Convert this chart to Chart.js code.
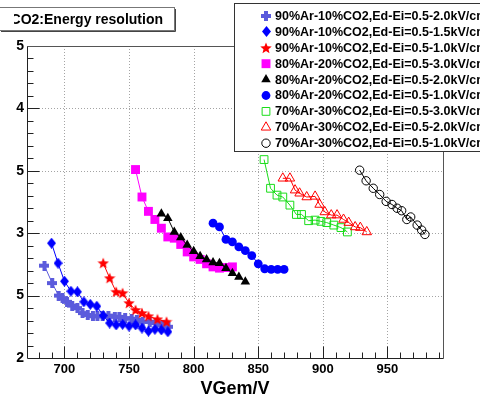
<!DOCTYPE html>
<html>
<head>
<meta charset="utf-8">
<script src="https://cdn.jsdelivr.net/npm/chart.js@4.4.1/dist/chart.umd.min.js"></script>
<style>
  html, body { margin: 0; padding: 0; background: #fff; }
  #wrap { width: 480px; height: 397px; }
</style>
</head>
<body>
<div id="wrap"><canvas id="resChart" width="480" height="397"></canvas></div>
<script>
// axis ranges and tick labels (as printed on the reference)
const xMin = 671, xMax = 993;
const yMin = 2, yMax = 4.5;
const xTickVals = [700, 750, 800, 850, 900, 950];
const yTickVals = [2, 2.5, 3, 3.5, 4, 4.5];
const yTickText = ['2', '5', '3', '5', '4', '5'];

const seriesLabels = [
    '90%Ar-10%CO2,Ed-Ei=0.5-2.0kV/cm',
    '90%Ar-10%CO2,Ed-Ei=0.5-1.5kV/cm',
    '90%Ar-10%CO2,Ed-Ei=0.5-1.0kV/cm',
    '80%Ar-20%CO2,Ed-Ei=0.5-3.0kV/cm',
    '80%Ar-20%CO2,Ed-Ei=0.5-2.0kV/cm',
    '80%Ar-20%CO2,Ed-Ei=0.5-1.0kV/cm',
    '70%Ar-30%CO2,Ed-Ei=0.5-3.0kV/cm',
    '70%Ar-30%CO2,Ed-Ei=0.5-2.0kV/cm',
    '70%Ar-30%CO2,Ed-Ei=0.5-1.0kV/cm'
];

// 90%Ar-10%CO2
const v90a = [684.5, 690.5, 695.5, 698.5, 702, 706, 710, 714, 718, 722, 725.5, 729.5, 734, 739, 742.5, 747, 752, 756, 760.5, 766, 771, 776, 780.5];
const e90a = [2.74, 2.60, 2.50, 2.48, 2.45, 2.42, 2.40, 2.36, 2.345, 2.335, 2.335, 2.335, 2.34, 2.33, 2.33, 2.32, 2.315, 2.305, 2.29, 2.29, 2.28, 2.265, 2.25];
const v90b = [690, 695, 700, 705, 710, 715, 720, 725, 730, 735, 740, 745, 750, 755, 760, 765, 770, 775, 780];
const e90b = [2.92, 2.76, 2.615, 2.535, 2.53, 2.45, 2.43, 2.415, 2.34, 2.28, 2.265, 2.27, 2.255, 2.265, 2.24, 2.215, 2.23, 2.225, 2.21];
const v90c = [730, 735, 740, 745, 750, 755, 760, 765, 772, 779];
const e90c = [2.76, 2.64, 2.53, 2.52, 2.44, 2.385, 2.36, 2.335, 2.31, 2.29];

// 80%Ar-20%CO2
const v80a = [755, 760, 765, 770, 775, 780, 785, 790, 795, 800, 805, 810, 815, 820, 825, 830];
const e80a = [3.51, 3.29, 3.175, 3.11, 3.04, 2.97, 2.96, 2.91, 2.85, 2.81, 2.79, 2.755, 2.73, 2.72, 2.725, 2.73];
const v80b = [775, 780, 785, 790, 795, 800, 805, 810, 815, 820, 825, 830, 835, 840];
const e80b = [3.155, 3.12, 3.01, 2.965, 2.905, 2.855, 2.815, 2.79, 2.765, 2.76, 2.72, 2.68, 2.65, 2.61];
const v80c = [815, 820, 825, 830, 835, 840, 845, 850, 855, 860, 865, 870];
const e80c = [3.08, 3.05, 2.95, 2.93, 2.89, 2.86, 2.82, 2.755, 2.715, 2.71, 2.71, 2.71];

// 70%Ar-30%CO2
const v70a = [854.5, 859.5, 864.5, 869, 874.5, 879.5, 883.5, 889, 894, 898.5, 903, 908.5, 914, 919];
const e70a = [3.59, 3.36, 3.305, 3.29, 3.225, 3.15, 3.15, 3.10, 3.105, 3.095, 3.085, 3.065, 3.045, 3.01];
const v70b = [869, 874.5, 878.5, 882, 887.5, 894, 897.5, 901.5, 906.5, 911, 916, 920, 925, 929, 934];
const e70b = [3.44, 3.44, 3.345, 3.32, 3.29, 3.295, 3.23, 3.17, 3.145, 3.145, 3.11, 3.085, 3.05, 3.045, 3.01];
const v70c = [928.5, 933.5, 939, 944, 949, 953.5, 957.5, 961, 965, 968, 973, 976.5, 979];
const e70c = [3.505, 3.42, 3.36, 3.31, 3.255, 3.23, 3.20, 3.18, 3.11, 3.13, 3.065, 3.025, 2.99];

const FONT = '"Liberation Sans", Arial, Helvetica, sans-serif';

// small canvases for the ROOT-like markers Chart.js doesn't have
function plusMarker(color) {
    const c = document.createElement('canvas');
    c.width = c.height = 10;
    const g = c.getContext('2d');
    g.fillStyle = color;
    g.fillRect(0, 3, 10, 4);
    g.fillRect(3, 0, 4, 10);
    return c;
}
function diamondMarker(color) {
    const c = document.createElement('canvas');
    c.width = 9; c.height = 11;
    const g = c.getContext('2d');
    g.fillStyle = color;
    g.beginPath();
    g.moveTo(4.5, 0); g.lineTo(9, 5.5); g.lineTo(4.5, 11); g.lineTo(0, 5.5);
    g.closePath();
    g.fill();
    return c;
}
function starMarker(color) {
    const c = document.createElement('canvas');
    c.width = c.height = 12;
    const g = c.getContext('2d');
    g.fillStyle = color;
    g.beginPath();
    for (let i = 0; i < 10; i++) {
        const r = i % 2 === 0 ? 6 : 2.6;
        const a = -Math.PI / 2 + i * Math.PI / 5;
        const px = 6 + r * Math.cos(a), py = 6.4 + r * Math.sin(a);
        if (i === 0) g.moveTo(px, py); else g.lineTo(px, py);
    }
    g.closePath();
    g.fill();
    return c;
}

const colors = ['#5b5bdc', '#0000ff', '#ff0000', '#ff00ff', '#000000', '#0000ff', '#19dd19', '#ff0000', '#000000'];
const markers = [
    { style: plusMarker(colors[0]), r: 5, open: false },
    { style: diamondMarker(colors[1]), r: 5, open: false },
    { style: starMarker(colors[2]), r: 6, open: false },
    { style: 'rect', r: 6.3, open: false },
    { style: 'triangle', r: 5.5, open: false },
    { style: 'circle', r: 4.4, open: false },
    { style: 'rect', r: 5.5, open: true },
    { style: 'triangle', r: 5.5, open: true },
    { style: 'circle', r: 4.2, open: true }
];
const xs = [v90a, v90b, v90c, v80a, v80b, v80c, v70a, v70b, v70c];
const ys = [e90a, e90b, e90c, e80a, e80b, e80c, e70a, e70b, e70c];

const datasets = xs.map((vx, i) => ({
    label: seriesLabels[i],
    data: vx.map((v, k) => ({ x: v, y: ys[i][k] })),
    showLine: true,
    borderColor: colors[i],
    borderWidth: 1,
    pointStyle: markers[i].style,
    pointRadius: markers[i].r,
    pointHoverRadius: markers[i].r,
    pointBackgroundColor: markers[i].open ? 'rgba(0,0,0,0)' : colors[i],
    pointBorderColor: colors[i],
    pointBorderWidth: markers[i].open ? 1 : 0,
    order: -i,
    clip: false
}));

function drawMark(ctx, i, x, y) {
    const m = markers[i];
    if (typeof m.style !== 'string') {
        ctx.drawImage(m.style, Math.round(x - m.style.width / 2), Math.round(y - m.style.height / 2));
        return;
    }
    ctx.save();
    ctx.fillStyle = m.open ? 'rgba(0,0,0,0)' : colors[i];
    ctx.strokeStyle = colors[i];
    ctx.lineWidth = 1;
    Chart.helpers.drawPoint(ctx, { pointStyle: m.style, radius: m.r, borderWidth: m.open ? 1 : 0, rotation: 0 }, x, y);
    ctx.restore();
}

const rootFrame = {
    id: 'rootFrame',
    beforeDatasetsDraw(chart) {
        const { ctx, chartArea: a } = chart;
        const sx = chart.scales.x, sy = chart.scales.y;
        ctx.save();
        ctx.strokeStyle = '#a4a4a4';
        ctx.lineWidth = 1;
        ctx.setLineDash([1, 2]);
        ctx.beginPath();
        xTickVals.forEach(v => {
            const px = Math.round(sx.getPixelForValue(v)) + 0.5;
            ctx.moveTo(px, a.top); ctx.lineTo(px, a.bottom);
        });
        yTickVals.forEach(v => {
            const py = Math.round(sy.getPixelForValue(v)) + 0.5;
            if (py > a.bottom - 2) return;
            ctx.moveTo(a.left, py); ctx.lineTo(a.right, py);
        });
        ctx.stroke();
        ctx.restore();
    },
    afterDatasetsDraw(chart) {
        const { ctx, chartArea: a } = chart;
        const sx = chart.scales.x, sy = chart.scales.y;
        const L = Math.round(a.left) + 0.5, R = Math.round(a.right) + 0.5;
        const T = Math.round(a.top) + 0.5, B = Math.round(a.bottom) + 0.5;
        ctx.save();
        ctx.lineWidth = 1;
        ctx.strokeStyle = '#555';
        ctx.beginPath();
        ctx.moveTo(L, T); ctx.lineTo(R, T); ctx.lineTo(R, B);
        ctx.stroke();
        ctx.strokeStyle = '#222';
        ctx.beginPath();
        ctx.moveTo(L, T); ctx.lineTo(L, B); ctx.lineTo(R, B);
        // x ticks, every 10 V, major every 50
        for (let v = 680; v <= 990; v += 10) {
            const px = Math.round(sx.getPixelForValue(v)) + 0.5;
            const len = v % 50 === 0 ? 12 : 6;
            ctx.moveTo(px, B); ctx.lineTo(px, B - len);
        }
        // y ticks, every 0.1, major every 0.5
        for (let k = 1; k < 25; k++) {
            const v = 2 + k * 0.1;
            const py = Math.round(sy.getPixelForValue(v)) + 0.5;
            const len = k % 5 === 0 ? 12 : 6;
            ctx.moveTo(L, py); ctx.lineTo(L + len, py);
        }
        ctx.stroke();
        ctx.restore();
    },
    afterDraw(chart) {
        const { ctx } = chart;
        ctx.save();
        // title box
        ctx.fillStyle = '#fff';
        ctx.fillRect(0, 8, 175, 23);
        ctx.strokeStyle = '#777';
        ctx.lineWidth = 1;
        ctx.strokeRect(-0.5, 7.5, 175, 23);
        ctx.strokeStyle = '#444';
        ctx.beginPath();
        ctx.moveTo(175.5, 9); ctx.lineTo(175.5, 31.5); ctx.lineTo(1, 31.5);
        ctx.stroke();
        ctx.font = 'bold 14px ' + FONT;
        ctx.fillStyle = '#000';
        ctx.textBaseline = 'middle';
        const pre = ctx.measureText('CO2:').width;
        ctx.save();
        ctx.beginPath();
        ctx.rect(14, 8, 170, 23);
        ctx.clip();
        ctx.fillText('CO2:Energy resolution', 44 - pre, 20);
        ctx.restore();

        // legend box
        ctx.fillStyle = '#fff';
        ctx.fillRect(234, 3, 260, 149);
        ctx.strokeStyle = '#333';
        ctx.strokeRect(234.5, 3.5, 260, 148);
        ctx.font = 'bold 12.5px ' + FONT;
        ctx.fillStyle = '#000';
        ctx.textAlign = 'left';
        seriesLabels.forEach((lab, i) => {
            const yy = 16 + i * 15.9;
            drawMark(ctx, i, 266, yy);
            ctx.fillStyle = '#000';
            ctx.fillText(lab, 275, yy + 0.5);
        });

        // x axis title
        ctx.font = 'bold 18px ' + FONT;
        ctx.textAlign = 'center';
        ctx.fillText('VGem/V', 235, 389);
        ctx.restore();
    }
};

new Chart(document.getElementById('resChart'), {
    type: 'scatter',
    data: { datasets },
    options: {
        responsive: false,
        devicePixelRatio: 1,
        animation: false,
        events: [],
        layout: { padding: { top: 46, right: 37, left: 0, bottom: 0 } },
        plugins: { legend: { display: false }, tooltip: { enabled: false } },
        scales: {
            x: {
                type: 'linear',
                min: xMin, max: xMax,
                grid: { display: false, drawTicks: false },
                border: { display: false },
                afterFit: s => { s.height = 39; },
                afterBuildTicks: s => { s.ticks = xTickVals.map(v => ({ value: v })); },
                ticks: {
                    autoSkip: false, maxRotation: 0, padding: 4,
                    color: '#000',
                    font: { family: FONT, size: 13, weight: 'bold' }
                }
            },
            y: {
                type: 'linear',
                min: yMin, max: yMax,
                grid: { display: false, drawTicks: false },
                border: { display: false },
                afterFit: s => { s.width = 27; },
                afterBuildTicks: s => { s.ticks = yTickVals.map(v => ({ value: v })); },
                ticks: {
                    autoSkip: false, padding: 3,
                    color: '#000',
                    font: { family: FONT, size: 14, weight: 'bold' },
                    callback: v => yTickText[yTickVals.indexOf(v)]
                }
            }
        }
    },
    plugins: [rootFrame]
});
</script>
</body>
</html>
